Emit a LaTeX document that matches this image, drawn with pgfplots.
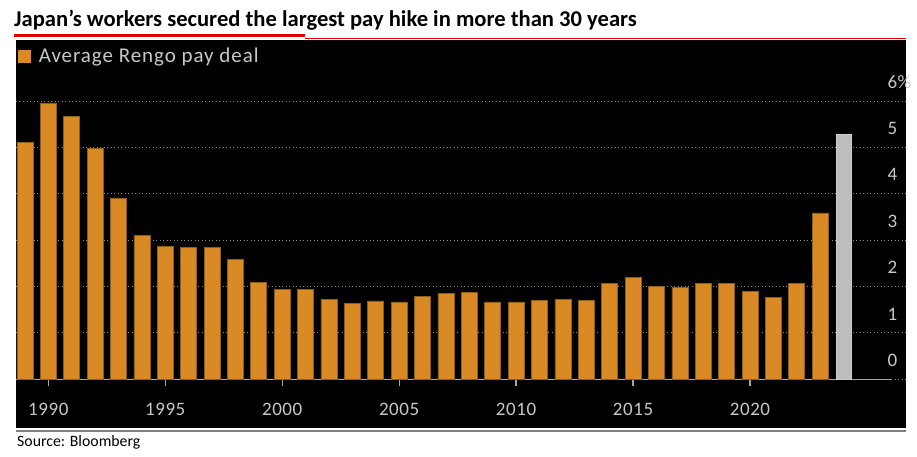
\documentclass[border=0pt]{standalone}
\usepackage{fontspec}
\setmainfont{Carlito}
\usepackage{pgfplots}
\usepackage{pgfplotstable}
\pgfplotsset{compat=1.18}

\definecolor{barorange}{HTML}{DA8A24}
\definecolor{baredge}{HTML}{8F5E17}
\definecolor{lastbar}{HTML}{BEBEBE}
\definecolor{ticktext}{HTML}{C8C8C8}
\definecolor{gridgray}{HTML}{8C8C8C}
\definecolor{axisgray}{HTML}{A6A6A6}
\definecolor{titlered}{HTML}{E00000}

% average Rengo pay deal, %
\pgfplotstableread{
year value
1989 5.11
1990 5.96
1991 5.67
1992 4.98
1993 3.91
1994 3.11
1995 2.87
1996 2.85
1997 2.84
1998 2.59
1999 2.09
2000 1.94
2001 1.93
2002 1.72
2003 1.63
2004 1.69
2005 1.67
2006 1.78
2007 1.85
2008 1.88
2009 1.67
2010 1.67
2011 1.70
2012 1.72
2013 1.70
2014 2.07
2015 2.20
2016 2.00
2017 1.98
2018 2.07
2019 2.07
2020 1.90
2021 1.77
2022 2.07
2023 3.59
}\rengo

\begin{document}
\begin{tikzpicture}
\useasboundingbox (-16pt,-29pt) rectangle (901pt,428pt);
\begin{axis}[
  at={(0pt,0pt)}, anchor=south west,
  scale only axis, width=890pt, height=388pt,
  xmin=1988.62, xmax=2026.67, ymin=-1.05, ymax=7.316,
  axis background/.style={fill=black},
  axis x line=middle, axis y line=right,
  x axis line style={draw=axisgray, line width=1.5pt, -, shorten >=15pt},
  y axis line style={draw=none},
  tick align=outside, major tick length=7pt,
  xtick={1990,1995,2000,2005,2010,2015,2020},
  xticklabels={1990,1995,2000,2005,2010,2015,2020},
  xtick style={draw=axisgray, line width=1.2pt},
  ytick={0,1,2,3,4,5,6},
  yticklabels={0,1,2,3,4,5,6\%},
  ytick style={draw=none},
  ymajorgrids,
  grid style={draw=gridgray, line width=0.9pt, dash pattern=on 1pt off 2.5pt},
  /pgf/number format/assume math mode=true,
  ticklabel style={font=\fontsize{19}{19}\selectfont\addfontfeature{LetterSpace=3}, text=ticktext},
  xticklabel style={anchor=center, yshift=-23pt},
  yticklabel style={anchor=west, xshift=-29pt, yshift=19pt},
  legend style={at={(0,1)}, anchor=north west, fill=none, draw=none,
    text=ticktext, font=\fontsize{21}{21}\selectfont\addfontfeature{LetterSpace=4.5},
    xshift=2pt, yshift=-6pt, inner sep=0pt},
  legend image code/.code={\fill[barorange] (0pt,-6pt) rectangle (12pt,6pt);},
  legend cell align=left,
  legend style={nodes={inner xsep=4pt}},
]
\addplot[ybar, bar width=16pt, bar shift=0pt, fill=barorange, draw=baredge, line width=0.6pt]
  table[x=year, y=value]{\rengo};
\addlegendentry{\hspace{4pt}Average Rengo pay deal}
\addplot[ybar, bar width=15pt, bar shift=0pt, fill=lastbar, draw=lastbar!80!white, line width=0.6pt, forget plot]
  coordinates {(2024,5.29)};
\end{axis}
% title and rules
\node[anchor=base west, inner sep=0pt, font=\fontsize{22.6}{22.6}\selectfont\bfseries]
  at (-2pt,401pt) {Japan’s workers secured the largest pay hike in more than 30 years};
\fill[titlered] (-2pt,390.5pt) rectangle (289pt,393.5pt);
\draw[titlered, line width=1.5pt] (289pt,389.5pt) -- (890pt,389.5pt);
\draw[gray, line width=2pt] (0pt,-3pt) -- (890pt,-3pt);
\node[anchor=base west, inner sep=0pt, font=\fontsize{15.8}{15.8}\selectfont]
  at (1pt,-19pt) {Source: Bloomberg};
\end{tikzpicture}
\end{document}
